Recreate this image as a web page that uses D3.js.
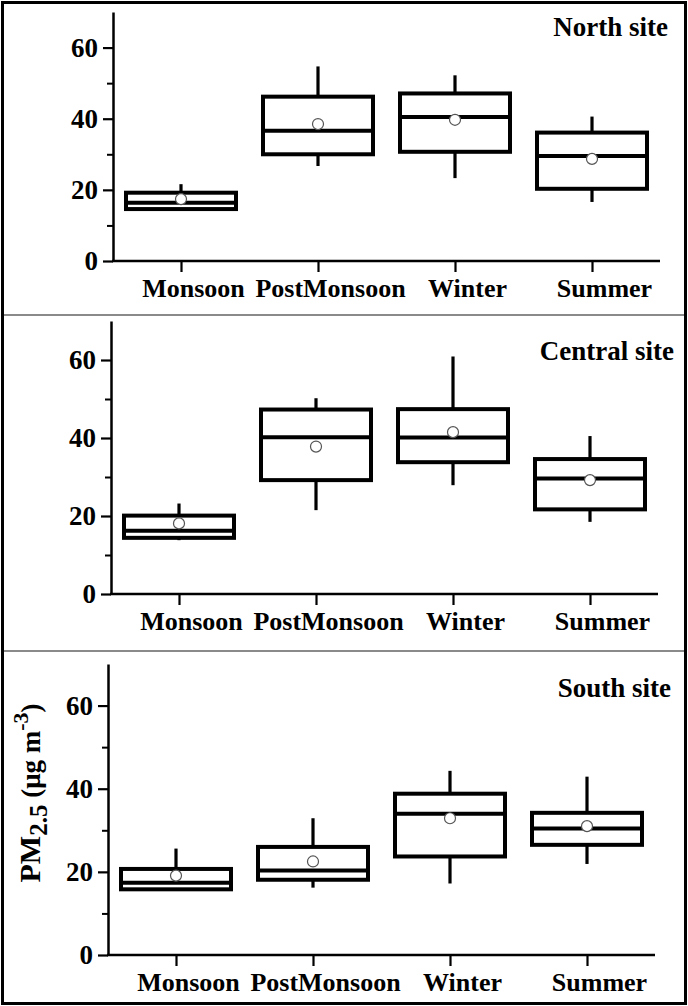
<!DOCTYPE html>
<html lang="en">
  <head>
    <meta charset="UTF-8" />
    <title>PM2.5 seasonal box plots</title>
    <script src="https://d3js.org/d3.v7.min.js"></script>
    <style>
      html,
      body {
        margin: 0;
        padding: 0;
        background: #fff;
      }
      svg text {
        font-family: "Liberation Serif", "Times New Roman", serif;
        font-weight: bold;
      }
    </style>
  </head>
  <body>
    <div id="viz"></div>
    <script>
      // data (PM2.5, ug m-3)
      const seasons = ["Monsoon", "PostMonsoon", "Winter", "Summer"];
      const sites = ["North site", "Central site", "South site"];
      const whiskerLow = [
        [14.1, 26.7, 23.3, 16.6],
        [13.8, 21.5, 27.9, 18.5],
        [15.6, 16.2, 17.2, 21.9],
      ];
      const q1 = [
        [14.6, 30.0, 30.7, 20.3],
        [14.4, 29.2, 33.8, 21.7],
        [15.8, 18.1, 23.7, 26.5],
      ];
      const median = [
        [16.4, 36.6, 40.5, 29.5],
        [16.2, 40.2, 40.1, 29.6],
        [17.4, 20.3, 34.0, 30.4],
      ];
      const q3 = [
        [19.2, 46.2, 47.1, 36.1],
        [20.1, 47.3, 47.4, 34.6],
        [20.7, 26.0, 38.8, 34.2],
      ];
      const whiskerHigh = [
        [21.6, 54.7, 52.2, 40.6],
        [23.2, 50.2, 60.9, 40.5],
        [25.6, 32.9, 44.3, 42.9],
      ];
      const means = [
        [17.4, 38.5, 39.7, 28.7],
        [18.1, 37.8, 41.5, 29.2],
        [19.1, 22.5, 32.9, 31.0],
      ];
      const yMajor = [0, 20, 40, 60];
      const yMinor = [10, 30, 50];
      const yDomain = [0, 70];

      // panel layout (pixels)
      const W = 688,
        H = 1006;
      const panels = [
        { axisX: 113, bottom: 261, top: 12, titleX: 668, titleY: 36 },
        { axisX: 111, bottom: 594, top: 321, titleX: 674, titleY: 360 },
        { axisX: 108, bottom: 955, top: 664, titleX: 671, titleY: 697 },
      ];
      const boxW = 110;

      const svg = d3
        .select("#viz")
        .append("svg")
        .attr("width", W)
        .attr("height", H);

      // outer frame and separators
      svg
        .append("rect")
        .attr("x", 2.5)
        .attr("y", 2.5)
        .attr("width", W - 5)
        .attr("height", H - 5)
        .attr("fill", "none")
        .attr("stroke", "#000")
        .attr("stroke-width", 3);
      [315, 651].forEach((y) => {
        svg
          .append("line")
          .attr("x1", 4)
          .attr("x2", W - 4)
          .attr("y1", y)
          .attr("y2", y)
          .attr("stroke", "#8a8a8a")
          .attr("stroke-width", 2);
      });

      panels.forEach((p, i) => {
        const g = svg.append("g");

        const y = d3.scaleLinear().domain(yDomain).range([p.bottom, p.top]);
        const x = d3
          .scalePoint()
          .domain(seasons)
          .range([p.axisX + 68, p.axisX + 479]);

        // y axis (major ticks with labels)
        const yAxis = g
          .append("g")
          .attr("transform", `translate(${p.axisX},0)`)
          .call(
            d3
              .axisLeft(y)
              .tickValues(yMajor)
              .tickSize(10)
              .tickSizeOuter(0)
              .tickPadding(5)
          );
        yAxis.select(".domain").attr("stroke-width", 2.5);
        yAxis.selectAll(".tick line").attr("stroke-width", 2.2);
        yAxis
          .selectAll(".tick text")
          .attr("font-size", 27)
          .attr("fill", "#000");

        // minor ticks
        const yMinorAxis = g
          .append("g")
          .attr("transform", `translate(${p.axisX},0)`)
          .call(
            d3
              .axisLeft(y)
              .tickValues(yMinor)
              .tickSize(6)
              .tickSizeOuter(0)
              .tickFormat("")
          );
        yMinorAxis.select(".domain").remove();
        yMinorAxis.selectAll(".tick line").attr("stroke-width", 2);

        // x axis
        const xAxis = g
          .append("g")
          .attr("transform", `translate(0,${p.bottom})`)
          .call(d3.axisBottom(x).tickSize(11).tickPadding(7));
        xAxis.select(".domain").remove();
        xAxis.selectAll(".tick line").attr("stroke-width", 2.2);
        xAxis
          .selectAll(".tick text")
          .attr("font-size", 26)
          .attr("dx", 12)
          .attr("fill", "#000");
        g.append("line")
          .attr("x1", p.axisX - 1)
          .attr("x2", p.axisX + 547)
          .attr("y1", p.bottom)
          .attr("y2", p.bottom)
          .attr("stroke", "#000")
          .attr("stroke-width", 2.5);

        const rows = seasons.map((s, j) => ({
          season: s,
          lo: whiskerLow[i][j],
          q1: q1[i][j],
          med: median[i][j],
          q3: q3[i][j],
          hi: whiskerHigh[i][j],
          mean: means[i][j],
        }));

        // whiskers
        g.selectAll("line.whLow")
          .data(rows)
          .join("line")
          .attr("class", "whLow")
          .attr("x1", (d) => x(d.season))
          .attr("x2", (d) => x(d.season))
          .attr("y1", (d) => y(d.q1))
          .attr("y2", (d) => y(d.lo))
          .attr("stroke", "#000")
          .attr("stroke-width", 3.2);
        g.selectAll("line.whHigh")
          .data(rows)
          .join("line")
          .attr("class", "whHigh")
          .attr("x1", (d) => x(d.season))
          .attr("x2", (d) => x(d.season))
          .attr("y1", (d) => y(d.q3))
          .attr("y2", (d) => y(d.hi))
          .attr("stroke", "#000")
          .attr("stroke-width", 3.2);

        // boxes
        g.selectAll("rect.box")
          .data(rows)
          .join("rect")
          .attr("class", "box")
          .attr("x", (d) => x(d.season) - boxW / 2)
          .attr("y", (d) => y(d.q3))
          .attr("width", boxW)
          .attr("height", (d) => y(d.q1) - y(d.q3))
          .attr("fill", "#fff")
          .attr("stroke", "#000")
          .attr("stroke-width", 4);

        // medians
        g.selectAll("line.med")
          .data(rows)
          .join("line")
          .attr("class", "med")
          .attr("x1", (d) => x(d.season) - boxW / 2)
          .attr("x2", (d) => x(d.season) + boxW / 2)
          .attr("y1", (d) => y(d.med))
          .attr("y2", (d) => y(d.med))
          .attr("stroke", "#000")
          .attr("stroke-width", 4);

        // means
        g.selectAll("circle.mean")
          .data(rows)
          .join("circle")
          .attr("class", "mean")
          .attr("cx", (d) => x(d.season))
          .attr("cy", (d) => y(d.mean))
          .attr("r", 5.5)
          .attr("fill", "#fff")
          .attr("stroke", "#555")
          .attr("stroke-width", 1.2);

        // site title
        g.append("text")
          .attr("x", p.titleX)
          .attr("y", p.titleY)
          .attr("text-anchor", "end")
          .attr("font-size", 27)
          .text(sites[i]);
      });

      // y axis title on the bottom panel
      const yLab = svg
        .append("text")
        .attr("transform", "translate(40,793) rotate(-90)")
        .attr("text-anchor", "middle");
      yLab.append("tspan").attr("font-size", 30).text("PM");
      yLab.append("tspan").attr("font-size", 25).attr("dy", 7).text("2.5");
      yLab.append("tspan").attr("font-size", 27).attr("dy", -7).text(" (μg m");
      yLab.append("tspan").attr("font-size", 22).attr("dy", -12).text("-3");
      yLab.append("tspan").attr("font-size", 27).attr("dy", 12).text(")");
    </script>
  </body>
</html>
